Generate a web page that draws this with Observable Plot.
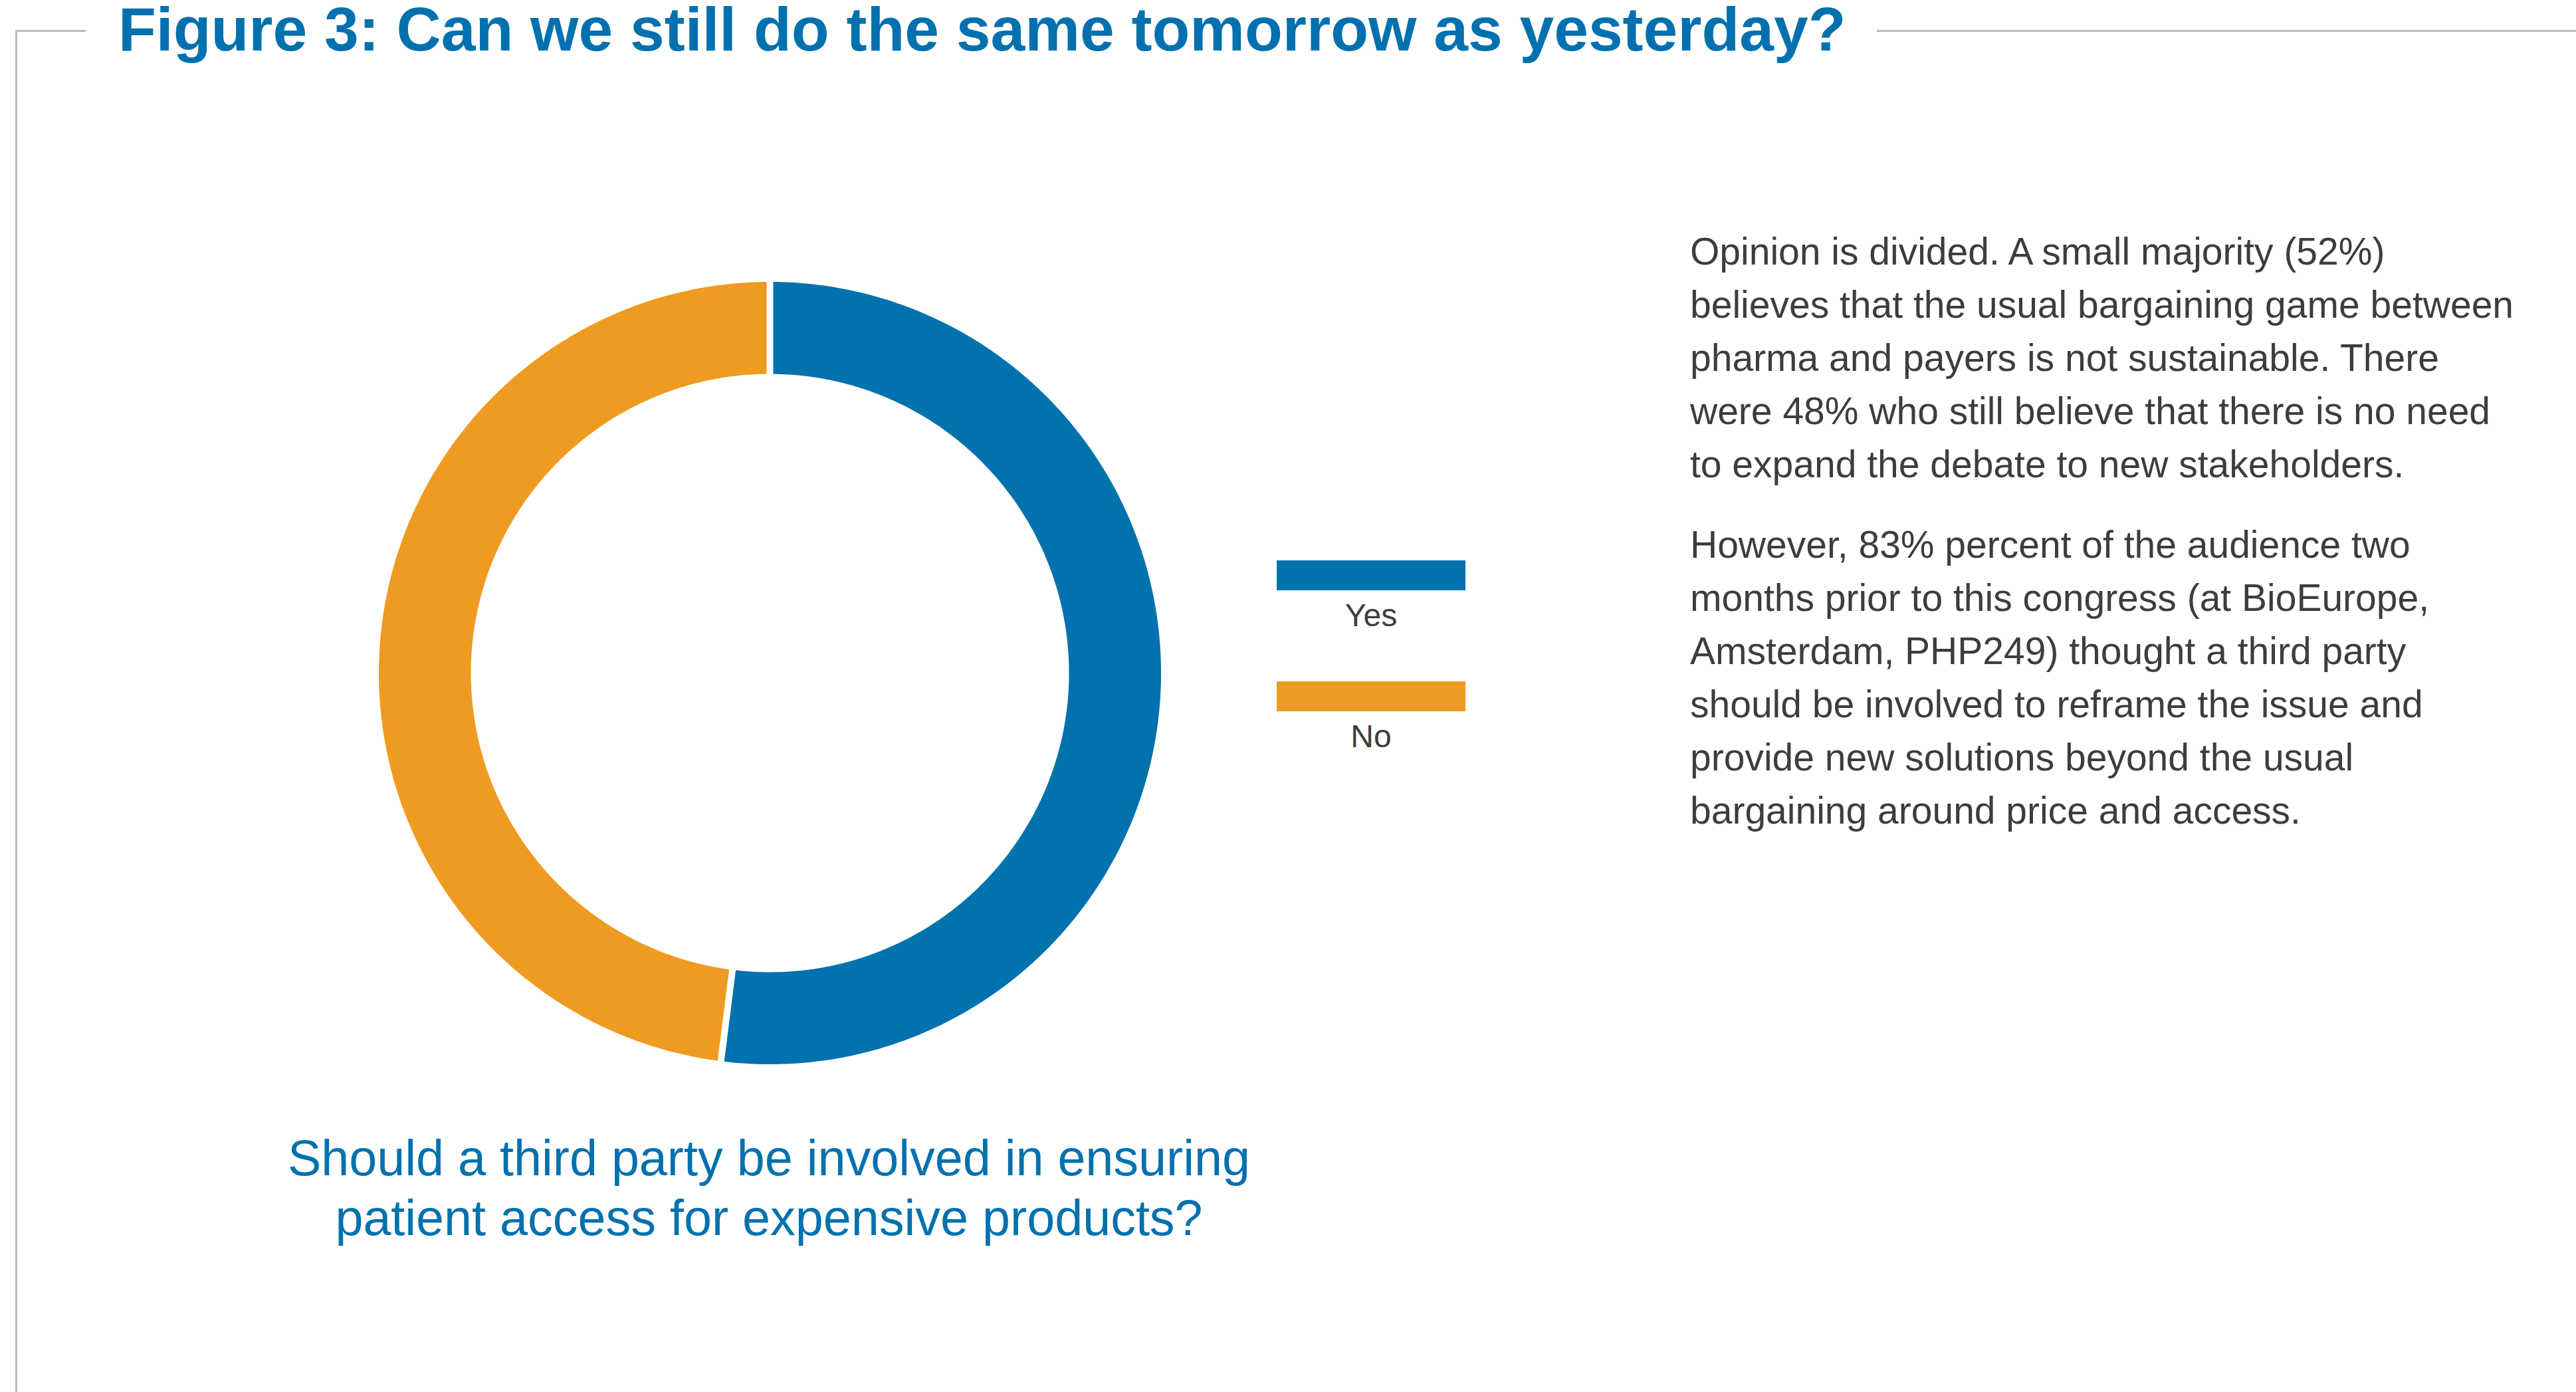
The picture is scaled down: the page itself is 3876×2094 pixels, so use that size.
<!DOCTYPE html>
<html>
<head>
<meta charset="utf-8">
<script src="https://cdn.jsdelivr.net/npm/d3@7"></script>
<script src="https://cdn.jsdelivr.net/npm/@observablehq/plot@0.6"></script>
<style>
  html, body { margin: 0; padding: 0; background: #ffffff; }
  body { width: 3876px; height: 2094px; position: relative; overflow: hidden;
         font-family: "Liberation Sans", Arial, Helvetica, sans-serif; }
  .abs { position: absolute; white-space: nowrap; }
  .rule { position: absolute; background: #bcbcc0; }
  #title { left: 178px; top: 2px; font-size: 93px; line-height: 84px; font-weight: bold; color: #0071ae; }
  #chart { position: absolute; left: 558px; top: 412px; }
  #question { left: 157px; width: 2000px; top: 1697px; font-size: 75.5px; line-height: 90px; color: #0071ae; text-align: center; }
  #question div { white-space: nowrap; }
  #text { left: 2543px; top: 338px; font-size: 57px; line-height: 80px; color: #3d3d3d; }
  #text p { margin: 0 0 41px 0; }
  .swatch { position: absolute; left: 1921px; width: 284px; height: 45px; }
  .lab { position: absolute; left: 1913px; width: 300px; text-align: center; font-size: 48px; line-height: 48px; color: #3d3d3d; }
</style>
</head>
<body>
<div class="rule" style="left:23px; top:45px; width:106px; height:3px;"></div>
<div class="rule" style="left:23px; top:45px; width:3px; height:2049px;"></div>
<div class="rule" style="left:2824px; top:45px; width:1052px; height:3px;"></div>
<div id="title" class="abs"></div>
<div id="chart"></div>
<div id="legend"></div>
<div id="question" class="abs"></div>
<div id="text" class="abs"></div>
<script>
// ---- data ----
const categories = ["Yes", "No"];
const values = [52, 48];
const colors = ["#0072ae", "#ef9b22"];
const titleText = "Figure 3: Can we still do the same tomorrow as yesterday?";
const questionLines = [
  "Should a third party be involved in ensuring",
  "patient access for expensive products?"
];
const paragraph1 = [
  "Opinion is divided. A small majority (52%)",
  "believes that the usual bargaining game between",
  "pharma and payers is not sustainable. There",
  "were 48% who still believe that there is no need",
  "to expand the debate to new stakeholders."
];
const paragraph2 = [
  "However, 83% percent of the audience two",
  "months prior to this congress (at BioEurope,",
  "Amsterdam, PHP249) thought a third party",
  "should be involved to reframe the issue and",
  "provide new solutions beyond the usual",
  "bargaining around price and access."
];

// ---- texts ----
document.getElementById("title").textContent = titleText;
const q = document.getElementById("question");
questionLines.forEach(l => { const d = document.createElement("div"); d.textContent = l; q.appendChild(d); });
const t = document.getElementById("text");
[paragraph1, paragraph2].forEach(lines => {
  const p = document.createElement("p");
  lines.forEach((l, i) => { if (i) p.appendChild(document.createElement("br")); p.appendChild(document.createTextNode(l)); });
  t.appendChild(p);
});

// ---- legend ----
const legend = document.getElementById("legend");
const swatchTops = [843, 1025];
categories.forEach((c, i) => {
  const s = document.createElement("div");
  s.className = "swatch"; s.style.top = swatchTops[i] + "px"; s.style.background = colors[i];
  legend.appendChild(s);
  const l = document.createElement("div");
  l.className = "lab"; l.style.top = (swatchTops[i] + 59) + "px"; l.textContent = c;
  legend.appendChild(l);
});

// ---- donut ----
const outerR = 1;
const innerR = 450 / 588.5;
const arcs = d3.pie().sort(null)(values);
const ringPoints = [];
arcs.forEach((a, i) => {
  const key = categories[i];
  const n = 240;
  const pts = [];
  for (let k = 0; k <= n; k++) {
    const ang = a.startAngle + (a.endAngle - a.startAngle) * k / n;
    pts.push({key, x: outerR * Math.sin(ang), y: outerR * Math.cos(ang)});
  }
  for (let k = n; k >= 0; k--) {
    const ang = a.startAngle + (a.endAngle - a.startAngle) * k / n;
    pts.push({key, x: innerR * Math.sin(ang), y: innerR * Math.cos(ang)});
  }
  pts.push(pts[0]);
  ringPoints.push(...pts);
});
const boundaries = arcs.map(a => ({
  x1: (innerR - 0.03) * Math.sin(a.startAngle), y1: (innerR - 0.03) * Math.cos(a.startAngle),
  x2: (outerR + 0.03) * Math.sin(a.startAngle), y2: (outerR + 0.03) * Math.cos(a.startAngle)
}));

const size = 1200;
const half = (size / 2) / 588.5;
const chart = Plot.plot({
  width: size,
  height: size,
  margin: 0,
  x: {domain: [-half, half], axis: null},
  y: {domain: [-half, half], axis: null},
  color: {domain: categories, range: colors},
  marks: [
    Plot.line(ringPoints, {x: "x", y: "y", z: "key", fill: "key", stroke: "none", curve: "linear"}),
    Plot.link(boundaries, {x1: "x1", y1: "y1", x2: "x2", y2: "y2", stroke: "white", strokeWidth: 10})
  ]
});
document.getElementById("chart").appendChild(chart);
</script>
</body>
</html>
